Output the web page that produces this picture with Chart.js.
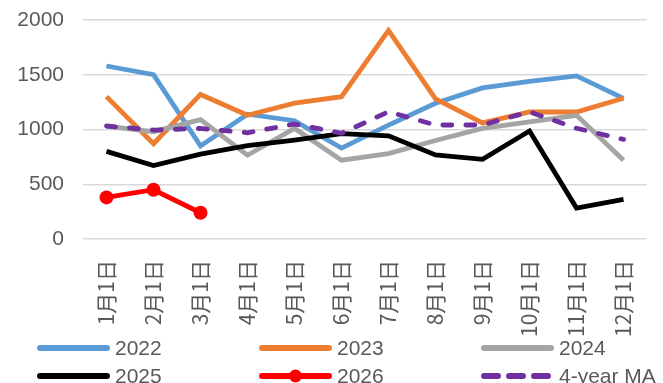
<!DOCTYPE html>
<html>
<head>
<meta charset="utf-8">
<script src="https://cdn.jsdelivr.net/npm/chart.js@4"></script>
<style>
  html, body { margin: 0; padding: 0; background: #fff; overflow: hidden; }
  #wrap { width: 670px; height: 383px; position: relative; }
</style>
</head>
<body>
<div id="wrap"><canvas id="c"></canvas></div>
<script>
// Monthly values by year, plus the 4-year moving average
const months = ['1月1日','2月1日','3月1日','4月1日','5月1日','6月1日','7月1日','8月1日','9月1日','10月1日','11月1日','12月1日'];
const y2022 = [1580, 1500, 850, 1140, 1080, 830, 1040, 1240, 1380, 1440, 1490, 1285];
const y2023 = [1300, 870, 1320, 1130, 1240, 1300, 1905, 1280, 1060, 1160, 1160, 1285];
const y2024 = [1030, 980, 1090, 765, 1010, 720, 780, 900, 1010, 1070, 1130, 720];
const y2025 = [800, 670, 775, 852, 904, 962, 942, 767, 728, 986, 282, 362];
const y2026 = [380, 450, 240];
const ma4 = [1032, 995, 1010, 970, 1050, 965, 1162, 1041, 1041, 1162, 1011, 910];
const yTicks = [0, 500, 1000, 1500, 2000];

const textColor = '#595959';
const numFont = "'Liberation Sans', Arial, sans-serif";

function line(label, data, color, order, extra) {
  return Object.assign({
    label, data, order,
    borderColor: color, backgroundColor: color,
    borderWidth: 4.8, tension: 0, pointRadius: 0, pointHoverRadius: 0,
    borderCapStyle: 'butt', borderJoinStyle: 'miter', fill: false
  }, extra || {});
}

const datasets = [
  line('2022', y2022, '#5b9bd5', 5),
  line('2023', y2023, '#ed7d31', 4),
  line('2024', y2024, '#a5a5a5', 3),
  line('2025', y2025, '#000000', 2),
  line('2026', y2026, '#ff0000', 1, { pointRadius: 7, pointBorderWidth: 0, pointBackgroundColor: '#ff0000' }),
  line('4-year MA', ma4, '#7030a0', 0, { borderDash: [9, 14], borderCapStyle: 'round' })
];

// Two-row legend with line samples under the axis labels
const lineLegend = {
  id: 'lineLegend',
  afterDraw(chart) {
    const ctx = chart.ctx;
    const cols = [37, 259, 481];
    const rows = [348, 376];
    const len = 73;
    ctx.save();
    chart.data.datasets.forEach((ds, i) => {
      const x = cols[i % 3], y = rows[Math.floor(i / 3)];
      ctx.strokeStyle = ds.borderColor;
      ctx.lineWidth = 6;
      ctx.lineCap = 'round';
      if (ds.borderDash) ctx.setLineDash([14, 11]);
      ctx.beginPath();
      ctx.moveTo(x + 3, y); ctx.lineTo(x + len - 3, y);
      ctx.stroke();
      ctx.setLineDash([]);
      if (ds.pointRadius) {
        ctx.fillStyle = ds.borderColor;
        ctx.beginPath();
        ctx.arc(x + len / 2, y, 6.5, 0, Math.PI * 2);
        ctx.fill();
      }
      ctx.fillStyle = textColor;
      ctx.font = '21px ' + numFont;
      ctx.textBaseline = 'middle';
      ctx.textAlign = 'left';
      ctx.fillText(ds.label, x + len + 5, y + 1);
    });
    ctx.restore();
  }
};

new Chart(document.getElementById('c'), {
  type: 'line',
  data: { labels: months, datasets },
  plugins: [lineLegend],
  options: {
    responsive: true,
    maintainAspectRatio: false,
    animation: false,
    layout: { padding: { top: 20, left: 0, right: 0, bottom: 0 } },
    plugins: { legend: { display: false }, tooltip: { enabled: false } },
    scales: {
      x: {
        offset: true,
        grid: { display: false, drawTicks: false },
        border: { display: false },
        afterFit(scale) { scale.height = 144; },
        ticks: {
          color: textColor,
          minRotation: 90, maxRotation: 90,
          padding: 21,
          autoSkip: false,
          font: { family: "'Noto Sans CJK SC', sans-serif", size: 21 }
        }
      },
      y: {
        min: 0, max: 2000,
        afterFit(scale) {
          scale.width = 83;
          scale.paddingTop = 0;
          scale.paddingBottom = 0;
        },
        afterBuildTicks(scale) { scale.ticks = yTicks.map(v => ({ value: v })); },
        grid: { color: '#d9d9d9', lineWidth: 1.5, drawTicks: false },
        border: { display: false },
        ticks: {
          color: textColor,
          padding: 19,
          font: { family: numFont, size: 21 },
          callback: (v) => String(v)
        }
      }
    }
  }
});
</script>
</body>
</html>
